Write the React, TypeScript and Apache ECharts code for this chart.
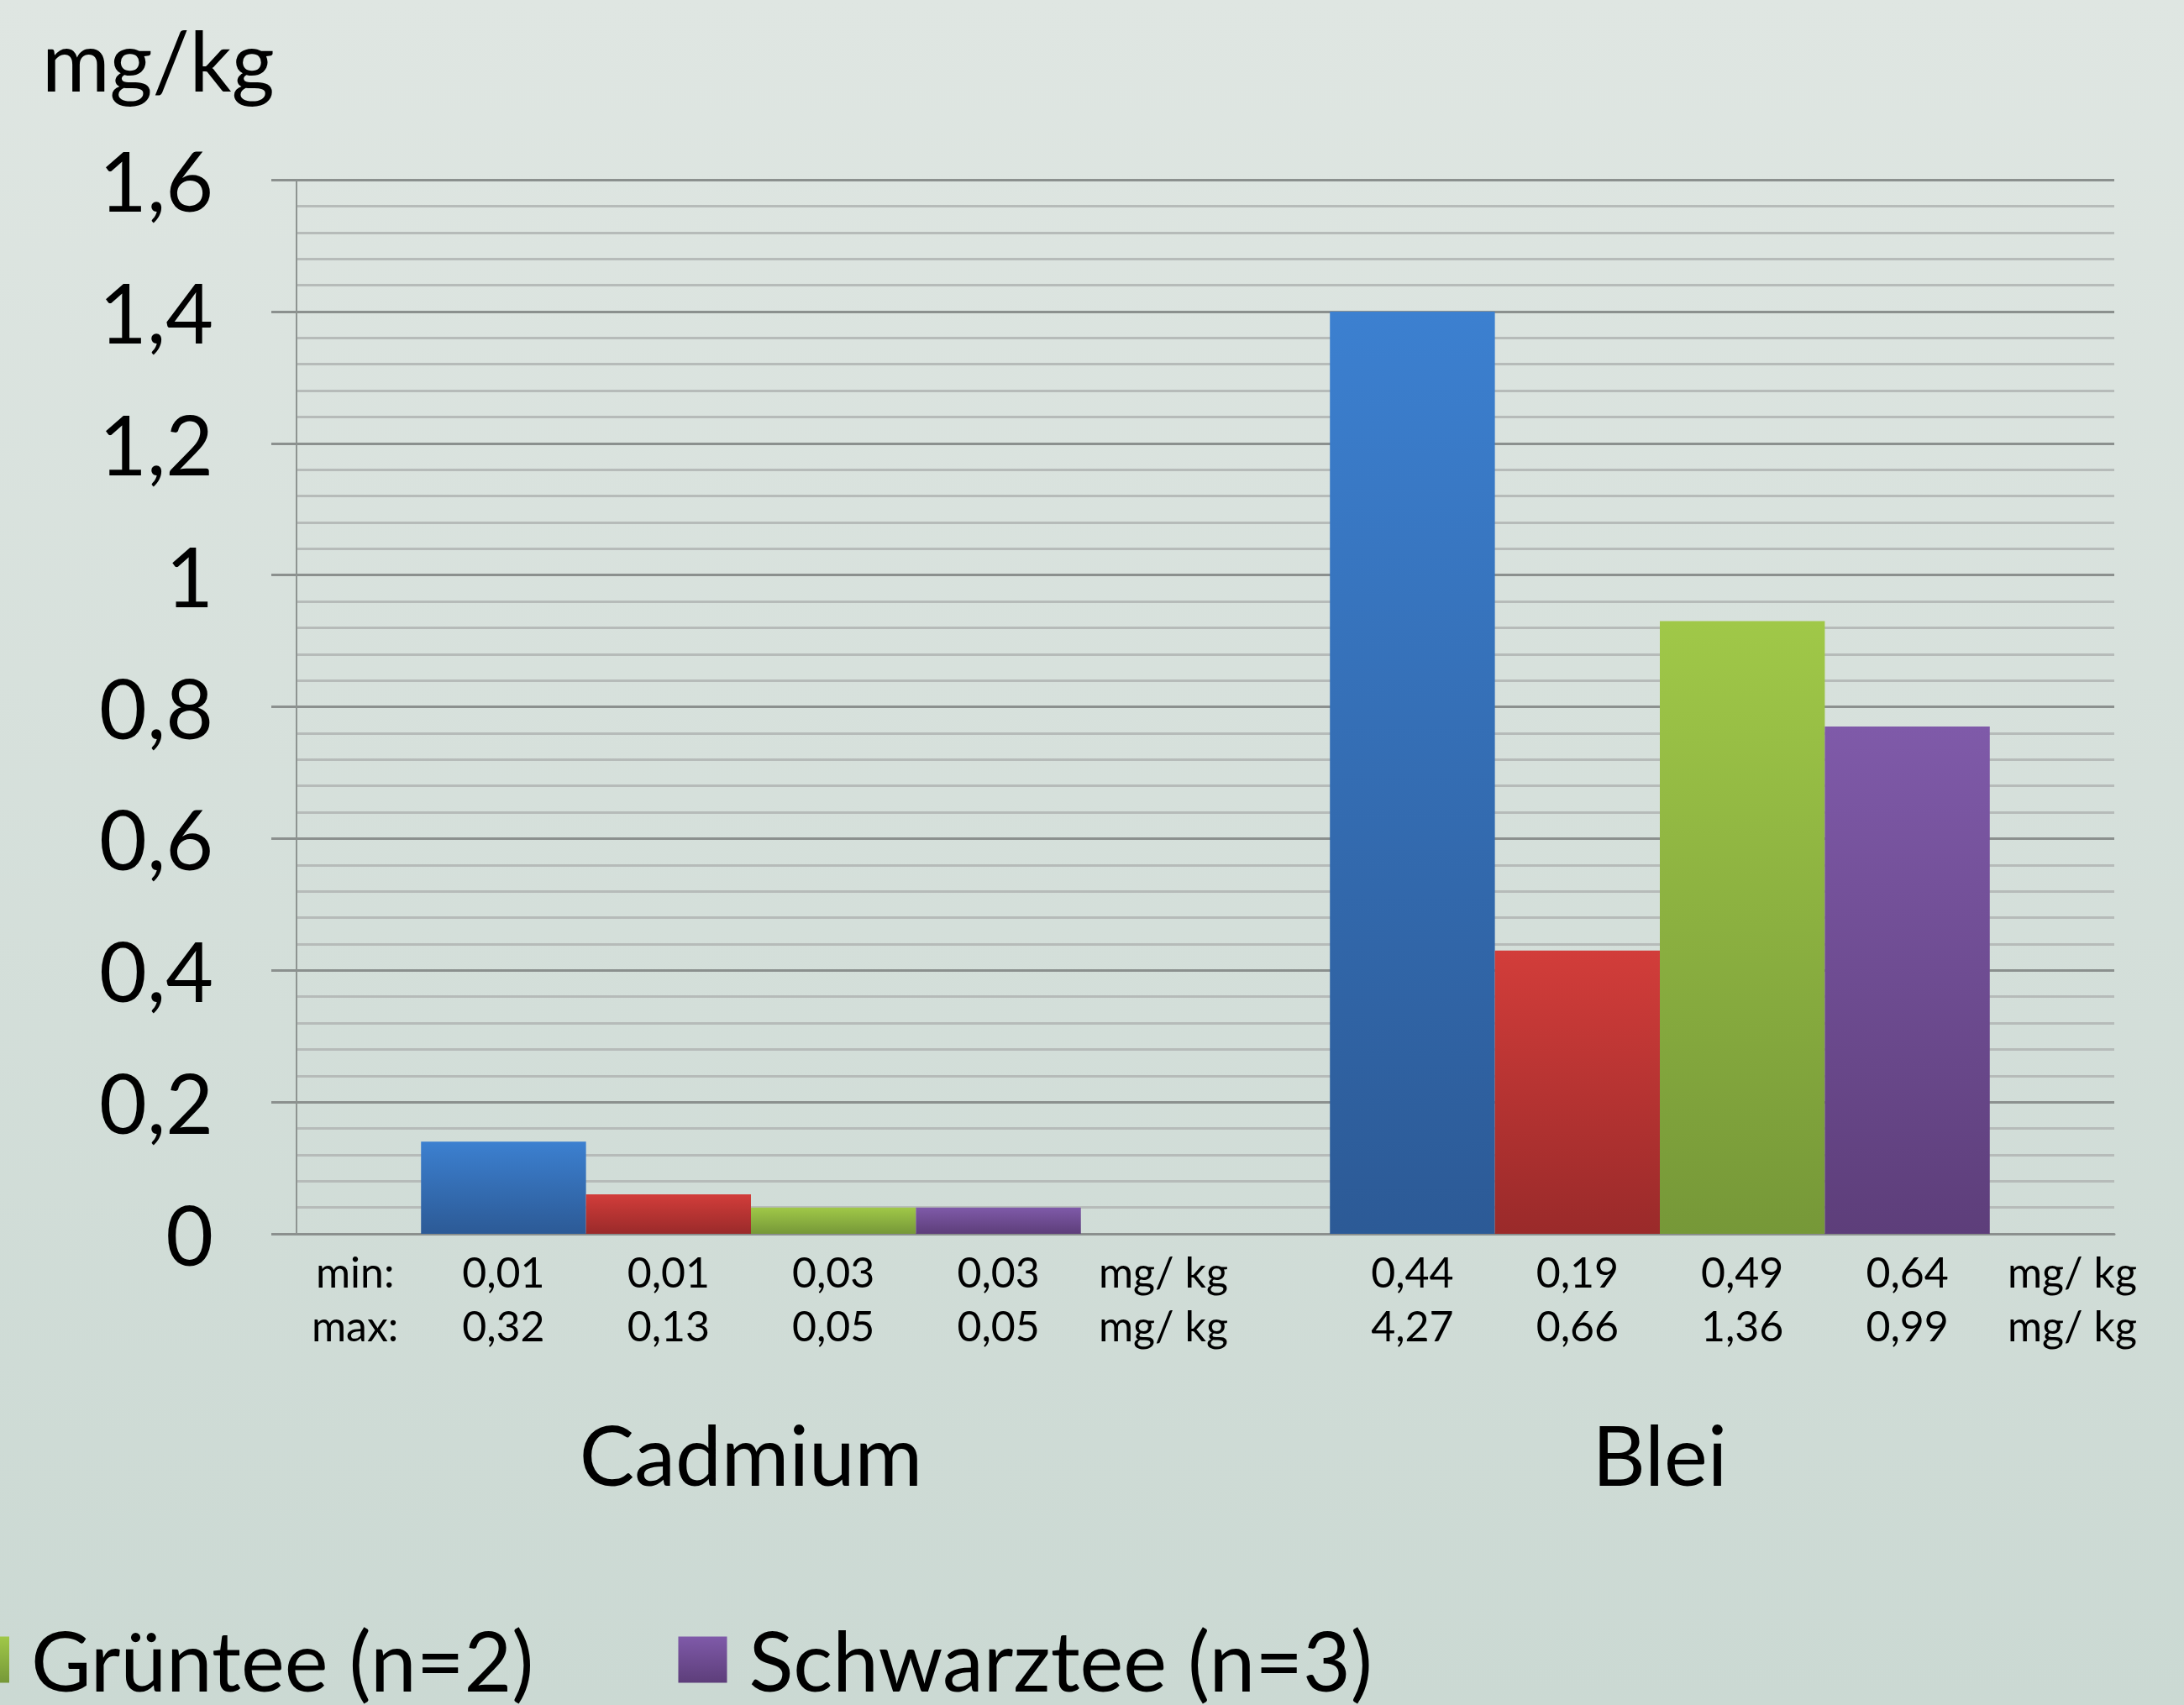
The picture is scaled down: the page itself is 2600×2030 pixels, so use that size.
import React, { useEffect, useRef } from "react";
import * as echarts from "echarts";

const categories = ["Cadmium", "Blei"];
const seriesNames = ["Tee A", "Tee B", "Grüntee (n=2)", "Schwarztee (n=3)"];
const legendNames = ["Grüntee (n=2)", "Schwarztee (n=3)"];
const meanValues = [
  [0.14, 1.4],
  [0.06, 0.43],
  [0.04, 0.93],
  [0.04, 0.77],
];
const minValues = [
  ["0,01", "0,44"],
  ["0,01", "0,19"],
  ["0,03", "0,49"],
  ["0,03", "0,64"],
];
const maxValues = [
  ["0,32", "4,27"],
  ["0,13", "0,66"],
  ["0,05", "1,36"],
  ["0,05", "0,99"],
];
const rowLabels = ["min:", "max:"];
const unitLabel = "mg/ kg";
const axisUnit = "mg/kg";
const barColors = [
  ["#3c80d0", "#2c5a96"],
  ["#d23d3a", "#9a2a2a"],
  ["#a0c848", "#769838"],
  ["#7f5aa9", "#5d3e7a"],
];

const FONT = "Lato";
const GAP = 0.274;

export default function App() {
  const ref = useRef<HTMLDivElement>(null);
  useEffect(() => {
    if (!ref.current) return;
    const chart = echarts.init(ref.current, undefined, { renderer: "svg" });
    const option: any = {
      animation: false,
      backgroundColor: new echarts.graphic.LinearGradient(0, 0, 0, 1, [
        { offset: 0, color: "#dfe6e2" },
        { offset: 1, color: "#cbd9d3" },
      ]),
      title: {
        text: axisUnit,
        left: 50,
        top: 22,
        padding: 0,
        textStyle: { fontSize: 98, fontFamily: FONT, fontWeight: "normal", color: "#000" },
      },
      legend: {
        data: legendNames,
        left: -52,
        top: 1922,
        itemWidth: 58,
        itemHeight: 55,
        itemGap: 172,
        icon: "rect",
        textStyle: { fontSize: 98, fontFamily: FONT, color: "#000", padding: [0, 0, 0, 21] },
      },
      grid: { left: 353, right: 83, top: 214, bottom: 561, containLabel: false },
      xAxis: {
        type: "category",
        data: categories,
        axisLine: { show: true, lineStyle: { color: "#8b908e", width: 3 } },
        axisTick: { show: false },
        axisLabel: { fontSize: 98, fontFamily: FONT, color: "#000", margin: 203, lineHeight: 118 },
      },
      yAxis: {
        type: "value",
        min: 0,
        max: 1.6,
        interval: 0.2,
        axisLine: { show: true, lineStyle: { color: "#8e9491", width: 2 } },
        axisTick: { show: true, length: 30, lineStyle: { color: "#8b908e", width: 3 } },
        axisLabel: {
          fontSize: 98,
          fontFamily: FONT,
          color: "#000",
          margin: 99,
          formatter: (v: number) => String(+v.toFixed(1)).replace(".", ","),
        },
        splitLine: { show: true, lineStyle: { color: "#8b908e", width: 3 } },
        minorTick: { show: false, splitNumber: 5 },
        minorSplitLine: { show: true, lineStyle: { color: "#b6bbb9", width: 3 } },
      },
      series: seriesNames.map((name, si) => ({
        type: "bar",
        name,
        data: meanValues[si],
        barGap: "0%",
        barCategoryGap: GAP * 100 + "%",
        itemStyle: {
          color: new echarts.graphic.LinearGradient(0, 0, 0, 1, [
            { offset: 0, color: barColors[si][0] },
            { offset: 1, color: barColors[si][1] },
          ]),
        },
        label: {
          show: true,
          position: "bottom",
          distance: 13,
          fontSize: 50,
          lineHeight: 64,
          fontFamily: FONT,
          color: "#000",
          align: "center",
          formatter: (p: any) => `${minValues[si][p.dataIndex]}\n${maxValues[si][p.dataIndex]}`,
        },
      })),
    };
    chart.setOption(option);

    const c0 = chart.convertToPixel({ xAxisIndex: 0 }, categories[0]) as number;
    const c1 = chart.convertToPixel({ xAxisIndex: 0 }, categories[1]) as number;
    const band = c1 - c0;
    const barW = (band * (1 - GAP)) / seriesNames.length;
    const y0 = chart.convertToPixel({ yAxisIndex: 0 }, 0) as number;
    const rowY = [y0 + 45, y0 + 109];
    const txt = (s: string, x: number, y: number) => ({
      type: "text",
      x,
      y,
      style: {
        text: s,
        fontSize: 50,
        fontFamily: FONT,
        fill: "#000",
        align: "center",
        verticalAlign: "middle",
      },
    });
    const elements: any[] = [];
    rowLabels.forEach((r, i) => elements.push(txt(r, c0 - 2.4 * barW, rowY[i])));
    [c0, c1].forEach((c) =>
      rowY.forEach((y) => elements.push(txt(unitLabel, c + 2.5 * barW, y)))
    );
    chart.setOption({ graphic: elements });

    return () => chart.dispose();
  }, []);
  return (
    <div
      ref={ref}
      style={{ position: "fixed", left: 0, top: 0, width: 2600, height: 2030 }}
    />
  );
}
